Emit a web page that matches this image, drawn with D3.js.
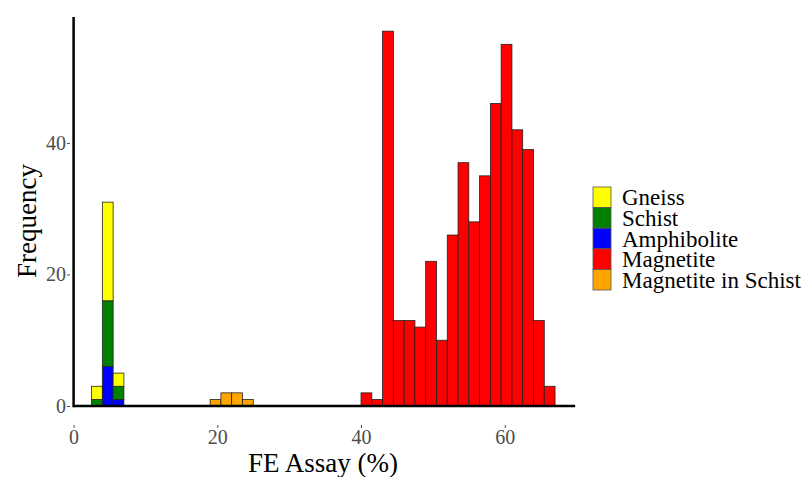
<!DOCTYPE html>
<html>
<head>
<meta charset="utf-8">
<script src="https://cdn.jsdelivr.net/npm/d3@7"></script>
<style>
  body { margin: 0; background: #fff; }
  svg text { font-family: "Liberation Serif", "DejaVu Serif", serif; }
</style>
</head>
<body>
<div id="chart"></div>
<script>
// histogram, bin width 1.5 % Fe
const binWidth = 1.5;

// low-grade host rocks
const lowBins = [2.5, 4, 5.5];
const gneiss = [2, 15, 2];
const schist = [1, 10, 2];
const amphibolite = [0, 6, 1];

// magnetite in schist
const misBins = [19, 20.5, 22, 23.5];
const magnetiteInSchist = [1, 2, 2, 1];

// magnetite
const magBins = [40, 41.5, 43, 44.5, 46, 47.5, 49, 50.5, 52, 53.5, 55, 56.5, 58, 59.5, 61, 62.5, 64, 65.5];
const magnetite = [2, 1, 57, 13, 13, 12, 22, 10, 26, 37, 28, 35, 46, 55, 42, 39, 13, 3];

const legendLabels = ["Gneiss", "Schist", "Amphibolite", "Magnetite", "Magnetite in Schist"];
const legendColors = ["#FFFF00", "#008000", "#0000FF", "#FF0000", "#FFA500"];
const xTicks = [0, 20, 40, 60];
const yTicks = [0, 20, 40];

const W = 804, H = 477;
const color = d3.scaleOrdinal().domain(legendLabels).range(legendColors);

// stack order bottom -> top: Amphibolite, Schist, Gneiss
let bars = [];
lowBins.forEach((b, i) => {
  let base = 0;
  [["Amphibolite", amphibolite[i]], ["Schist", schist[i]], ["Gneiss", gneiss[i]]].forEach(([k, v]) => {
    if (v > 0) bars.push({ x0: b, y0: base, y1: base + v, key: k });
    base += v;
  });
});
misBins.forEach((b, i) => bars.push({ x0: b, y0: 0, y1: magnetiteInSchist[i], key: "Magnetite in Schist" }));
magBins.forEach((b, i) => bars.push({ x0: b, y0: 0, y1: magnetite[i], key: "Magnetite" }));

const x = d3.scaleLinear().domain([0, 70]).range([73.6, 576.6]);
const y = d3.scaleLinear().domain([0, 59]).range([406, 18]);

const svg = d3.select("#chart").append("svg").attr("width", W).attr("height", H);

// bars
svg.append("g").selectAll("rect")
  .data(bars)
  .join("rect")
  .attr("x", d => x(d.x0))
  .attr("width", d => x(d.x0 + binWidth) - x(d.x0))
  .attr("y", d => y(d.y1))
  .attr("height", d => y(d.y0) - y(d.y1))
  .attr("fill", d => color(d.key))
  .attr("stroke", "#222")
  .attr("stroke-width", 0.8);

// axis lines drawn at zero
svg.append("line")
  .attr("x1", x(0)).attr("x2", x(69.8))
  .attr("y1", y(0)).attr("y2", y(0))
  .attr("stroke", "#000").attr("stroke-width", 2.5);
svg.append("line")
  .attr("x1", x(0)).attr("x2", x(0))
  .attr("y1", y(0) + 1.2).attr("y2", 17)
  .attr("stroke", "#000").attr("stroke-width", 2.5);

// ticks sit on the (expanded) panel edge
const xAxis = svg.append("g")
  .attr("transform", "translate(0,425)")
  .call(d3.axisBottom(x).tickValues(xTicks).tickSize(3).tickPadding(2));
const yAxis = svg.append("g")
  .attr("transform", "translate(70,0)")
  .call(d3.axisLeft(y).tickValues(yTicks).tickSize(3).tickPadding(1));

[xAxis, yAxis].forEach(a => {
  a.select(".domain").remove();
  a.selectAll(".tick line").attr("stroke", "#4d4d4d");
  a.selectAll(".tick text")
    .attr("fill", "#4d4d4d")
    .style("font-size", "20px")
    .style("font-family", "'Liberation Serif', serif");
});

// axis titles
svg.append("text")
  .attr("x", 323).attr("y", 472)
  .attr("text-anchor", "middle")
  .style("font-size", "27px")
  .text("FE Assay (%)");
svg.append("text")
  .attr("transform", "translate(36,221) rotate(-90)")
  .attr("text-anchor", "middle")
  .style("font-size", "27px")
  .text("Frequency");

// legend
const keyH = 20.6;
const legend = svg.append("g").attr("transform", "translate(593,187)");
const item = legend.selectAll("g")
  .data(legendLabels)
  .join("g")
  .attr("transform", (d, i) => `translate(0,${i * keyH})`);
item.append("rect")
  .attr("width", 18).attr("height", keyH)
  .attr("fill", d => color(d))
  .attr("stroke", "#555").attr("stroke-width", 0.8);
item.append("text")
  .attr("x", 29).attr("y", keyH / 2)
  .attr("dy", "0.35em")
  .style("font-size", "23px")
  .text(d => d);
</script>
</body>
</html>
